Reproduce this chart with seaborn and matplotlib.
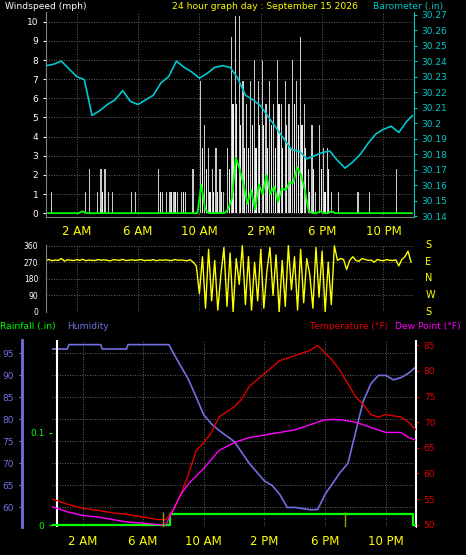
import numpy as np
import pandas as pd
import matplotlib
matplotlib.use("Agg")
import matplotlib.pyplot as plt
import seaborn as sns

sns.set_style("dark")
plt.rcParams['font.family'] = ['DejaVu Sans']

# ---- data ----
baro_hours = [i * 0.5 for i in range(48)] + [23.9]
baro = [30.237, 30.238, 30.240, 30.235, 30.230, 30.228, 30.205, 30.208, 30.212, 30.215,
        30.221, 30.214, 30.212, 30.215, 30.218, 30.226, 30.230, 30.240, 30.236, 30.233,
        30.229, 30.232, 30.236, 30.237, 30.236, 30.229, 30.218, 30.215, 30.211, 30.204,
        30.197, 30.190, 30.183, 30.182, 30.177, 30.179, 30.181, 30.182, 30.176, 30.171,
        30.175, 30.180, 30.187, 30.193, 30.196, 30.198, 30.194, 30.201, 30.205]

q_hours = [i * 0.25 for i in range(96)]
gust = [0, 1.1, 0, 0, 0, 0, 0, 0,
        0, 0, 1.1, 2.3, 0, 1.1, 2.3, 2.3,
        1.1, 1.1, 0, 0, 0, 0, 1.1, 1.1,
        0, 0, 0, 0, 0, 2.3, 1.1, 1.1,
        1.1, 1.1, 1.1, 1.1, 1.1, 0, 2.3, 0,
        6.9, 4.6, 3.4, 2.3, 3.4, 2.3, 1.1, 3.4,
        9.2, 10.3, 10.3, 6.9, 5.7, 6.9, 8.0, 6.9,
        8.0, 5.7, 6.9, 5.7, 8.0, 5.7, 6.9, 5.7,
        8.0, 6.9, 9.2, 5.7, 2.3, 4.6, 1.1, 4.6,
        3.4, 3.4, 1.1, 0, 1.1, 0, 0, 0,
        0, 1.1, 0, 0, 1.1, 0, 0, 0,
        0, 0, 0, 2.3, 0, 0, 0, 0]
gust_low = [0, 0, 0, 0, 0, 0, 0, 0,
            0, 0, 0, 0, 0, 0, 1.1, 0,
            0, 0, 0, 0, 0, 0, 0, 0,
            0, 0, 0, 0, 0, 1.1, 0, 0,
            1.1, 1.1, 0, 1.1, 0, 0, 0, 0,
            3.4, 2.3, 1.1, 1.1, 1.1, 1.1, 0, 2.3,
            5.7, 5.7, 4.6, 3.4, 3.4, 4.6, 3.4, 4.6,
            4.6, 3.4, 4.6, 3.4, 5.7, 3.4, 4.6, 3.4,
            5.7, 4.6, 4.6, 3.4, 1.1, 2.3, 0, 2.3,
            1.1, 2.3, 0, 0, 0, 0, 0, 0,
            0, 0, 0, 0, 0, 0, 0, 0,
            0, 0, 0, 0, 0, 0, 0, 0]
wind_avg = [0, 0, 0, 0, 0, 0, 0, 0,
            0, 0.1, 0, 0, 0, 0, 0, 0,
            0, 0, 0, 0, 0, 0, 0, 0,
            0, 0, 0, 0, 0, 0, 0, 0,
            0, 0, 0, 0, 0, 0, 0, 0,
            1.5, 0.2, 0, 0, 0, 0, 0, 0.2,
            0.8, 2.9, 2.3, 1.5, 0.5, 1.2, 0.2, 1.5,
            1.0, 2.0, 1.0, 1.4, 0.6, 1.3, 1.2, 1.6,
            1.6, 2.4, 2.0, 1.2, 0.1, 0, 0, 0.1,
            0, 0, 0.1, 0, 0, 0, 0, 0,
            0, 0, 0, 0, 0, 0, 0, 0,
            0, 0, 0, 0, 0, 0, 0, 0]

dir_hours = [i * 0.2 for i in range(120)]
wind_dir = [280, 285, 278, 282, 280, 290, 276, 283, 281, 279,
            284, 280, 286, 278, 282, 280, 279, 285, 281, 283,
            280, 278, 284, 282, 280, 286, 279, 281, 283, 280,
            282, 285, 279, 281, 280, 284, 278, 282, 281, 283,
            280, 279, 285, 281, 282, 280, 278, 284, 270, 250,
            100, 300, 20, 340, 60, 280, 10, 200, 350, 30,
            320, 0, 290, 150, 360, 40, 300, 10, 270, 60,
            340, 20, 220, 350, 90, 310, 0, 280, 30, 360,
            120, 300, 10, 340, 50, 290, 200, 20, 350, 80,
            330, 0, 270, 40, 360, 280, 290, 285, 230, 280,
            300, 280, 275, 290, 285, 280, 282, 270, 285, 280,
            278, 284, 281, 279, 283, 250, 285, 300, 330, 270]

h_hours = [0, 1, 1.1, 3.2, 3.3, 4.9, 5.0, 7.7, 8, 9, 10, 10.5, 11, 12, 13, 14, 14.5,
           15, 15.5, 16, 17, 17.5, 18, 19, 19.5, 20, 20.5, 21, 21.5, 22, 22.5, 23, 23.5, 24]
humidity = [96, 96, 97, 97, 96, 96, 97, 97, 95, 89, 81, 79, 77.5, 75, 70, 66, 65,
            63, 60, 60, 59.5, 59.5, 63, 68, 70, 77, 84, 88, 90, 90, 89, 89.5, 90.5, 92]
t_hours = [0, 1, 2, 3, 4, 5, 6, 7, 7.5, 8, 8.5, 9, 9.5, 10, 10.5, 11, 12, 12.5, 13, 14, 15, 16, 17,
           17.5, 18, 18.5, 19, 19.5, 20, 20.5, 21, 21.5, 22, 23, 23.5, 24]
temperature = [55, 54, 53.2, 52.8, 52.3, 52, 51.5, 51, 51, 53, 56, 60, 64.5, 66, 68, 71, 73, 74.5, 77,
               79.5, 82, 83, 84, 85, 83.5, 82, 80, 77.5, 75, 73.5, 71.5, 71, 71.5, 71, 70, 68.5]
d_hours = [0, 1, 2, 3, 4, 5, 6, 7, 7.5, 8, 8.5, 9, 10, 11, 12, 13, 14, 15, 16, 17, 18, 19, 20, 21,
           22, 23, 23.5, 24]
dewpoint = [53.5, 52.5, 51.8, 51.5, 51, 50.5, 50.3, 50, 50, 53, 56, 58, 61, 64.5, 66, 67, 67.5, 68,
            68.5, 69.5, 70.5, 70.5, 70, 69, 68, 68, 67, 66.5]
rain_hours = [0, 7.8, 7.8, 23.8, 23.8, 24]
rain = [0, 0, 0.012, 0.012, 0, 0]

xticks = [2, 6, 10, 14, 18, 22]
xlabels = ["2 AM", "6 AM", "10 AM", "2 PM", "6 PM", "10 PM"]

BG = "black"
fig = plt.figure(figsize=(4.66, 5.55), dpi=100, facecolor=BG)
fs = 6.5

def style(ax, xlim):
    ax.set_facecolor(BG)
    ax.set_xlim(*xlim)
    ax.grid(True, color="#808080", linestyle=(0, (1, 2)), linewidth=0.6)
    for s in ax.spines.values():
        s.set_visible(False)
    ax.set_xticks(xticks)
    ax.set_xticks(np.arange(0, 24.1, 1), minor=True)
    ax.tick_params(axis="x", which="both", colors="#808080", length=2, labelsize=8.5, labelcolor="#ffff00")
    ax.set_xlabel("")
    ax.set_ylabel("")

# ---- top panel ----
ax1 = fig.add_axes([0.0987, 0.609, 0.79, 0.369])
style(ax1, (0, 24))
ax1.bar([h + 0.05 for h in q_hours], gust, width=0.08, align="edge", color="#c8c8c8", linewidth=0)
ax1.bar([h + 0.15 for h in q_hours], gust_low, width=0.08, align="edge", color="#f0f0f0", linewidth=0)
sns.lineplot(x=[h + 0.125 for h in q_hours], y=wind_avg, ax=ax1, color="#00ff00", linewidth=1.3,
             estimator=None, sort=False)
ax1.set_ylim(-0.2, 10.5)
ax1.set_yticks(range(0, 11))
ax1.tick_params(axis="y", colors="white", labelsize=fs, length=2)
ax1.spines["left"].set_visible(True); ax1.spines["left"].set_color("#808080")
ax1.spines["bottom"].set_visible(True); ax1.spines["bottom"].set_color("#808080")
ax1.set_xticklabels(xlabels)
ax1b = ax1.twinx()
sns.lineplot(x=baro_hours, y=baro, ax=ax1b, color="#00c8d0", linewidth=1.2)
ax1b.set_ylim(30.1395, 30.2715)
ax1b.set_yticks([30.14 + 0.01 * i for i in range(14)])
ax1b.set_yticklabels(["30.14", "30.15", "30.16", "30.17", "30.18", "30.19", "30.2", "30.21",
                      "30.22", "30.23", "30.24", "30.25", "30.26", "30.27"])
ax1b.tick_params(axis="y", colors="#00c8c8", labelsize=fs, length=2)
for s in ax1b.spines.values():
    s.set_visible(False)
ax1b.spines["right"].set_visible(True); ax1b.spines["right"].set_color("#00c8c8")
ax1b.set_ylabel("")
fig.text(0.01, 0.988, "Windspeed (mph)", color="white", fontsize=6.6, va="center")
fig.text(0.37, 0.988, "24 hour graph day : September 15 2026", color="#ffff00", fontsize=6.6, va="center")
fig.text(0.80, 0.988, "Barometer (.in)", color="#00c8c8", fontsize=6.6, va="center")

# ---- direction panel ----
ax2 = fig.add_axes([0.0987, 0.438, 0.79, 0.121])
style(ax2, (0, 24))
sns.lineplot(x=dir_hours, y=wind_dir, ax=ax2, color="#ffff00", linewidth=1.0, estimator=None, sort=False)
ax2.set_ylim(0, 365)
ax2.set_yticks([0, 90, 180, 270, 360])
ax2.tick_params(axis="y", colors="white", labelsize=5.5, length=2)
ax2.tick_params(axis="x", labelbottom=False)
ax2.spines["left"].set_visible(True); ax2.spines["left"].set_color("#808080")
for i, t in enumerate(["S", "E", "N", "W", "S"]):
    ax2.text(1.03, 1 - i * 0.25, t, transform=ax2.transAxes, color="#ffff00", fontsize=7, va="center")

# ---- bottom panel ----
ax3 = fig.add_axes([0.112, 0.050, 0.781, 0.337])
style(ax3, (0.3, 24))
ax3.set_xticklabels(xlabels)
sns.lineplot(x=h_hours, y=humidity, ax=ax3, color="#7070e0", linewidth=1.2, estimator=None, sort=False)
ax3.set_ylim(55.5, 98)
ax3.set_yticks([60, 65, 70, 75, 80, 85, 90, 95])
ax3.tick_params(axis="y", colors="#7070e0", labelsize=fs, length=2)
ax3.spines["left"].set_visible(True); ax3.spines["left"].set_color("#7070e0")
ax3.spines["left"].set_position(("outward", 22)); ax3.spines["left"].set_linewidth(2)
ax3.axvline(0.3, color="white", linewidth=1.5)
ax3.axvline(24, color="white", linewidth=1.5)
ax3r = ax3.twinx()
sns.lineplot(x=rain_hours, y=rain, ax=ax3r, color="#00ff00", linewidth=1.6, estimator=None, sort=False)
ax3r.set_ylim(-0.0022, 0.2)
ax3r.yaxis.set_ticks_position("left")
ax3r.set_yticks([0, 0.1]); ax3r.set_yticklabels(["0", "0.1"])
ax3r.tick_params(axis="y", colors="#00ff00", labelsize=fs, length=2)
for s in ax3r.spines.values():
    s.set_visible(False)
ax3r.set_ylabel("")
ax3t = ax3.twinx()
sns.lineplot(x=t_hours, y=temperature, ax=ax3t, color="#e00000", linewidth=1.0)
sns.lineplot(x=d_hours, y=dewpoint, ax=ax3t, color="#ff00ff", linewidth=1.0)
ax3t.vlines([7.3, 19.3], 49.5, 52.5, color="#a0a000", linewidth=1)
ax3t.set_ylim(49.5, 86)
ax3t.set_yticks([50, 55, 60, 65, 70, 75, 80, 85])
ax3t.tick_params(axis="y", colors="#e00000", labelsize=fs, length=2)
for s in ax3t.spines.values():
    s.set_visible(False)
ax3t.spines["right"].set_visible(True); ax3t.spines["right"].set_color("white")
ax3t.set_ylabel("")
fig.text(0.0, 0.412, "Rainfall (.in)", color="#00ff00", fontsize=6.6, va="center")
fig.text(0.145, 0.412, "Humidity", color="#7070e0", fontsize=6.6, va="center")
fig.text(0.665, 0.412, "Temperature (°F)", color="#e00000", fontsize=6.6, va="center")
fig.text(0.848, 0.412, "Dew Point (°F)", color="#ff00ff", fontsize=6.6, va="center")

fig.savefig("out.png", dpi=100, facecolor=BG)
